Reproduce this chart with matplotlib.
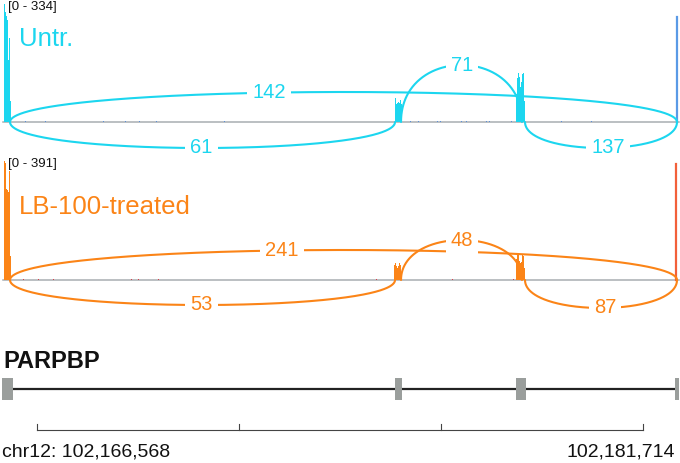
import numpy as np
import matplotlib
matplotlib.use("Agg")
import matplotlib.pyplot as plt

plt.rcParams['font.family'] = ['Liberation Sans', 'DejaVu Sans']

# genomic window (chr12)
view_start = 102165643
view_end = 102182639
BIN = 25  # bp per coverage bin

# exons of PARPBP
exon_starts = [102165693, 102175516, 102178540, 102182514]
exon_ends = [102165968, 102175691, 102178790, 102182614]

# junctions (start, end) and read counts
junc_start = [102165893, 102165893, 102175666, 102178765]
junc_end = [102175516, 102182564, 102178690, 102182564]
untr_counts = [61, 142, 71, 137]
lb_counts = [53, 241, 48, 87]

# coverage over exons, one value per bin
untr_e1_start, untr_e1 = 102165743, [334, 312, 300, 290, 175, 237, 60]
untr_e2_start, untr_e2 = 102175516, [68, 50, 55, 58, 55, 62, 52]
untr_e3_start, untr_e3 = 102178540, [80, 125, 140, 128, 100, 112, 135, 140, 60]
untr_e4_pos, untr_e4 = 102182564, 297

lb_e1_start, lb_e1 = 102165743, [391, 385, 300, 295, 290, 358, 80]
lb_e2_start, lb_e2 = 102175491, [50, 55, 45, 40, 45, 55, 50]
lb_e3_start, lb_e3 = 102178540, [70, 81, 81, 62, 55, 60, 81, 78, 40]
lb_e4_pos, lb_e4 = 102182539, 381

# sparse intronic coverage
untr_blip_pos = [102166268, 102166768, 102168218, 102168768, 102169118, 102169543,
                 102171243, 102175893, 102176093, 102176568, 102176643, 102177168,
                 102177293, 102177793, 102177868, 102178415, 102179668, 102180418]
untr_blip_val = [3, 3, 3, 4, 3, 3, 3, 3, 4, 3, 3, 4, 4, 3, 4, 3, 3, 3]
lb_blip_pos = [102166218, 102166593, 102166968, 102168918, 102169093, 102169593,
               102175043, 102176943, 102178468]
lb_blip_val = [3, 3, 3, 3, 3, 3, 3, 3, 4]

# scale bar
bar_start = 102166568
bar_end = 102181714

cyan = '#1cd6ef'
orange = '#fb8417'
W, H = 680, 463


def track_axes(top_px, bot_px, base_px, full_px, max_val):
    ax = fig.add_axes([0, 1 - bot_px / H, 1, (bot_px - top_px) / H])
    s = max_val / (base_px - full_px)  # units per pixel
    ax.set_xlim(view_start, view_end)
    ax.set_ylim(-(bot_px - base_px) * s, (base_px - top_px) * s)
    ax.axis('off')
    ax.patch.set_alpha(0)
    return ax, s


def draw_cov(ax, start, vals, color):
    x = start + BIN * np.arange(len(vals) + 1)
    y = list(vals) + [vals[-1]]
    ax.fill_between(x, 0, y, step='post', color=color, lw=0)


def draw_track(ax, s, counts, arc_px, label_frac, color, blip_pos, blip_val,
               blip_color, covs, e4, e4_color, max_val, name, name_px):
    ax.plot([view_start + 75, 102182614], [0, 0], color='#a8aeb2', lw=1.1, zorder=1)
    for p, v in zip(blip_pos, blip_val):
        ax.fill_between([p, p + BIN], 0, v, color=blip_color, lw=0, zorder=2)
    for st, vals in covs:
        draw_cov(ax, st, vals, color)
    ax.plot([e4[0], e4[0]], [0, e4[1]], color=e4_color, lw=1.6, zorder=3)
    t = np.linspace(0, 1, 300)
    for js, je, c, hp, f in zip(junc_start, junc_end, counts, arc_px, label_frac):
        h = hp / 0.75 * s
        xs = js + (je - js) * (3 * t ** 2 - 2 * t ** 3)
        ys = h * 3 * t * (1 - t)
        ax.plot(xs, ys, color=color, lw=1.5, zorder=4, solid_capstyle='round')
        # label position along the arc
        k = np.argmin(np.abs((xs - js) / (je - js) - f))
        ax.text(xs[k], ys[k], str(c), color=color, fontsize=14.5, ha='center',
                va='center', zorder=5,
                bbox=dict(boxstyle='square,pad=0.25', fc='white', ec='none'))
    ax.text(view_start + 8 * BIN, max_val - 3 * s, '[0 - %d]' % max_val,
            fontsize=9.5, ha='left', va='center', color='#111111', zorder=6)
    ax.text(view_start + 19 * BIN, max_val - name_px * s, name, color=color,
            fontsize=18.5, ha='left', va='baseline', zorder=6)


fig = plt.figure(figsize=(W / 100, H / 100), dpi=100)

ax1, s1 = track_axes(0, 165, 122, 4, 334)
draw_track(ax1, s1, untr_counts, [-26, 30, 57, -26], [0.5, 0.39, 0.5, 0.55],
           cyan, untr_blip_pos, untr_blip_val, '#5a8fd8',
           [(untr_e1_start, untr_e1), (untr_e2_start, untr_e2), (untr_e3_start, untr_e3)],
           (untr_e4_pos, untr_e4), '#5a9ae6', 334, 'Untr.', 42)

ax2, s2 = track_axes(150, 325, 280, 161, 391)
draw_track(ax2, s2, lb_counts, [-25, 30, 40, -28], [0.5, 0.41, 0.5, 0.53],
           orange, lb_blip_pos, lb_blip_val, '#d8404c',
           [(lb_e1_start, lb_e1), (lb_e2_start, lb_e2), (lb_e3_start, lb_e3)],
           (lb_e4_pos, lb_e4), '#f2603a', 391, 'LB-100-treated', 53)

# gene model and scale bar
ax3 = fig.add_axes([0, 0, 1, 135 / H])
ax3.set_xlim(view_start, view_end)
ax3.set_ylim(463, 328)
ax3.axis('off')
ax3.patch.set_alpha(0)
ax3.plot([exon_ends[0], exon_starts[-1]], [389, 389], color='#222222', lw=1.6, zorder=1)
for a, b in zip(exon_starts, exon_ends):
    ax3.add_patch(plt.Rectangle((a, 378), b - a, 22, color='#9a9e9c', lw=0, zorder=2))
ax3.text(view_start + 3 * BIN, 362, 'PARPBP', fontsize=17, fontweight='bold',
         ha='left', va='center', color='#111111')

ticks = np.linspace(bar_start, bar_end, 4)
ax3.plot([bar_start, bar_end], [430, 430], color='#444444', lw=0.8)
for tk in ticks:
    ax3.plot([tk, tk], [430, 424], color='#444444', lw=0.8)
ax3.text(view_start + 2 * BIN, 452, 'chr12: {:,}'.format(bar_start), fontsize=14,
         ha='left', va='center', color='#111111')
ax3.text(view_end - 5 * BIN, 452, '{:,}'.format(bar_end), fontsize=14,
         ha='right', va='center', color='#111111')

fig.savefig('out.png', dpi=100)
